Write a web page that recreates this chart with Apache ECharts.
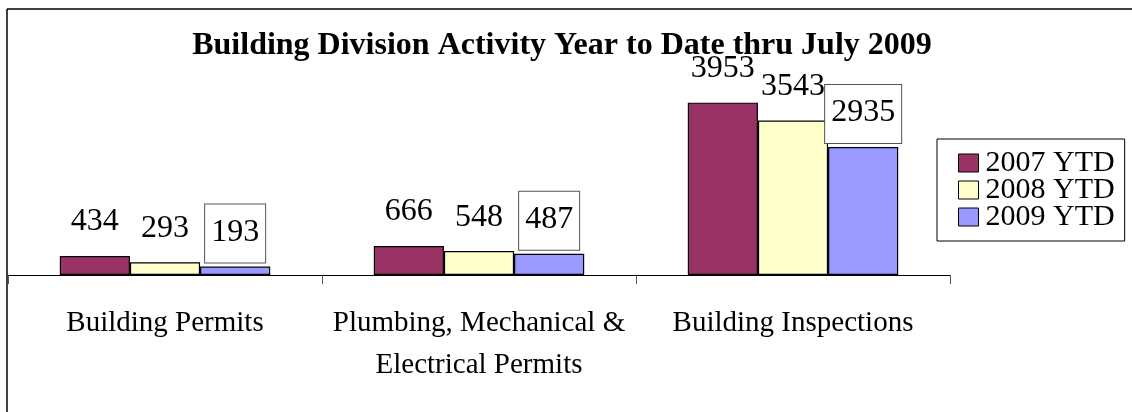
<!DOCTYPE html>
<html>
<head>
<meta charset="utf-8">
<script src="https://cdn.jsdelivr.net/npm/echarts@6/dist/echarts.min.js"></script>
<style>
  html, body { margin: 0; padding: 0; background: #fff; }
  #chart { width: 1132px; height: 412px; }
</style>
</head>
<body>
<div id="chart"></div>
<script>
const categories = ['Building Permits', 'Plumbing, Mechanical &\nElectrical Permits', 'Building Inspections'];
const ytd2007 = [434, 666, 3953];
const ytd2008 = [293, 548, 3543];
const ytd2009 = [193, 487, 2935];
const seriesNames = ['2007 YTD', '2008 YTD', '2009 YTD'];

const serif = "'Liberation Serif', 'Times New Roman', serif";
const chart = echarts.init(document.getElementById('chart'));

const plainLabel = {
  show: true,
  position: 'top',
  distance: 4,
  fontFamily: serif,
  fontSize: 32,
  lineHeight: 32,
  color: '#000',
  padding: [12, 6, 14, 6],
};
const boxedLabel = Object.assign({}, plainLabel, {
  borderColor: '#555',
  borderWidth: 1,
  backgroundColor: '#fff',
});

const makeSeries = (name, data, color, label) => ({
  name,
  type: 'bar',
  data,
  barGap: 0,
  barCategoryGap: '33%',
  itemStyle: { color, borderColor: '#000', borderWidth: 1.2 },
  label,
});

chart.setOption({
  animation: false,
  backgroundColor: '#fff',
  textStyle: { fontFamily: serif },
  title: {
    text: 'Building Division Activity Year to Date thru July 2009',
    left: 557,
    textAlign: 'center',
    top: 25,
    textStyle: { fontFamily: serif, fontSize: 32, fontWeight: 'bold', color: '#000' },
  },
  graphic: [
    { type: 'line', shape: { x1: 7, y1: 9, x2: 1132, y2: 9 }, style: { stroke: '#000', lineWidth: 1.5 } },
    { type: 'line', shape: { x1: 7, y1: 9, x2: 7, y2: 412 }, style: { stroke: '#000', lineWidth: 1.5 } },
  ],
  legend: {
    orient: 'vertical',
    left: 937,
    top: 139,
    padding: [9, 10, 9, 21],
    borderColor: '#000',
    borderWidth: 1,
    itemWidth: 20,
    itemHeight: 18,
    itemGap: -3,
    icon: 'rect',
    itemStyle: { borderColor: '#000', borderWidth: 1 },
    textStyle: { fontFamily: serif, fontSize: 30, lineHeight: 30, color: '#000', padding: [0, 0, 0, 2] },
    data: seriesNames,
  },
  grid: { left: 8, right: 182, top: 57, bottom: 137, containLabel: false },
  xAxis: {
    type: 'category',
    data: categories,
    axisLine: { lineStyle: { color: '#000', width: 1 } },
    axisTick: { show: true, length: 9, lineStyle: { color: '#555' } },
    axisLabel: { fontFamily: serif, fontSize: 29, lineHeight: 42, color: '#000', margin: 27, interval: 0 },
  },
  yAxis: {
    type: 'value',
    min: 0,
    max: 5000,
    show: false,
    splitLine: { show: false },
  },
  series: [
    makeSeries(seriesNames[0], ytd2007, '#993366', plainLabel),
    makeSeries(seriesNames[1], ytd2008, '#FFFFCC', plainLabel),
    makeSeries(seriesNames[2], ytd2009, '#9999FF', boxedLabel),
  ],
});
</script>
</body>
</html>
